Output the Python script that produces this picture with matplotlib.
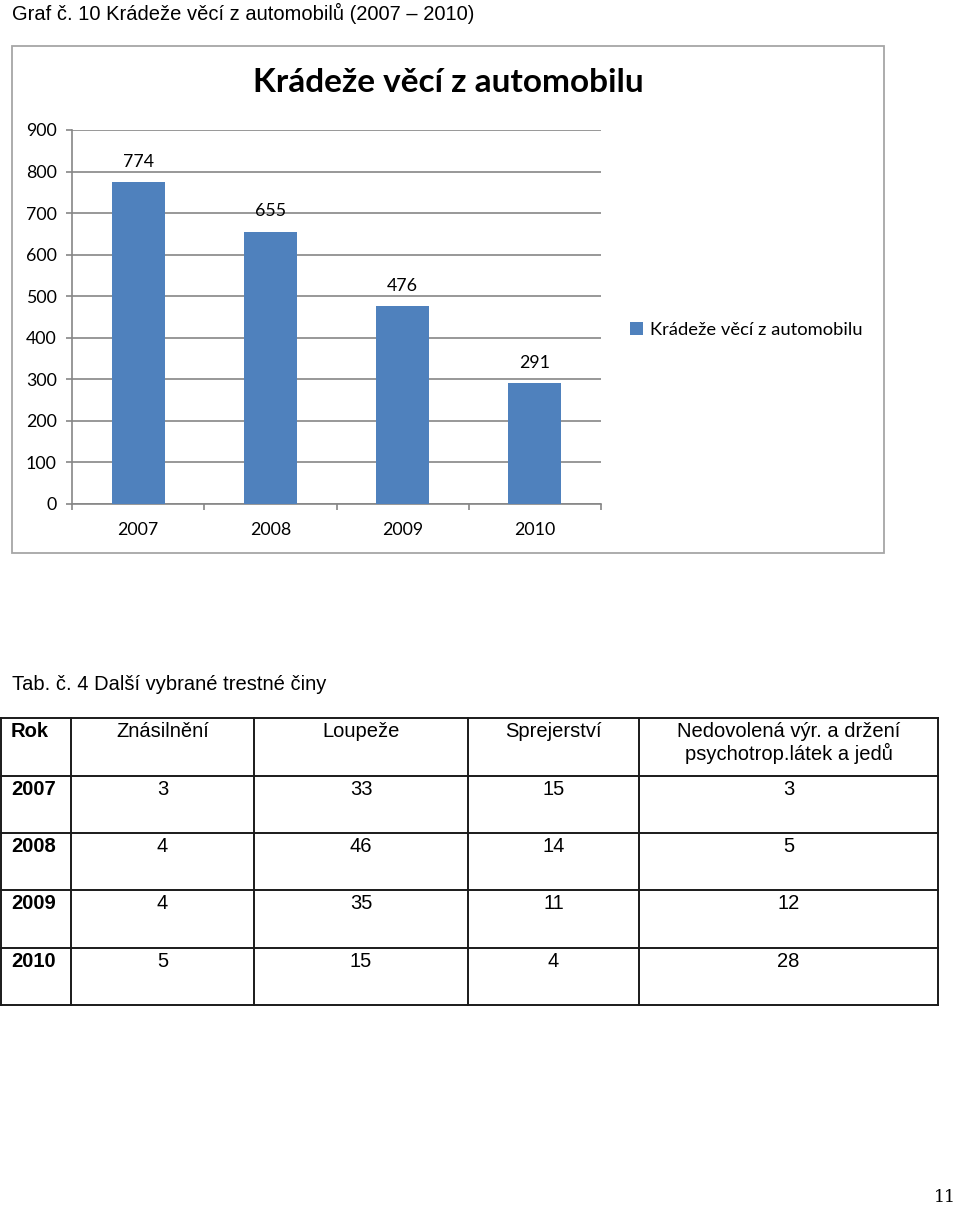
import matplotlib
matplotlib.use("Agg")
import matplotlib.pyplot as plt
from matplotlib.patches import Rectangle

# chart data
years = ["2007", "2008", "2009", "2010"]
kradeze = [774, 655, 476, 291]
series_name = "Krádeže věcí z automobilu"

# table data
tab_headers = ["Rok", "Znásilnění", "Loupeže", "Sprejerství",
               "Nedovolená výr. a držení\npsychotrop.látek a jedů"]
tab_years = ["2007", "2008", "2009", "2010"]
znasilneni = [3, 4, 4, 5]
loupeze = [33, 46, 35, 15]
sprejerstvi = [15, 14, 11, 4]
nedovolena = [3, 5, 12, 28]

W, H = 960, 1206
BAR = "#4F81BD"
GRID = "#868686"
CHART_FONT = "Lato"
DOC_FONT = "Liberation Sans"


def fx(x):
    return x / W


def fy(y):
    return 1 - y / H


fig = plt.figure(figsize=(W / 100, H / 100), dpi=100)

# page layer in pixel coordinates for the text and the table
page = fig.add_axes([0, 0, 1, 1])
page.set_xlim(0, W)
page.set_ylim(H, 0)
page.axis("off")

page.text(12, 13, "Graf č. 10 Krádeže věcí z automobilů (2007 – 2010)",
          family=DOC_FONT, fontsize=14.5, ha="left", va="center")

# chart frame
fig.add_artist(Rectangle((fx(12), fy(553)), fx(872), 507 / H, transform=fig.transFigure,
                         fill=False, edgecolor="#A6A6A6", lw=1.3))
fig.text(fx(448), fy(82), series_name, family=CHART_FONT, fontweight="bold",
         fontsize=24, ha="center", va="center")

ax = fig.add_axes([fx(72), fy(504), 529 / W, 374 / H])
xpos = list(range(len(years)))
bars = ax.bar(xpos, kradeze, width=0.4, color=BAR, label=series_name, zorder=3)
ax.bar_label(bars, labels=[str(v) for v in kradeze], padding=9,
             family=CHART_FONT, fontsize=12.8)
ax.set_ylim(0, 900)
ax.set_xlim(-0.5, len(years) - 0.5)
ax.set_yticks(range(0, 901, 100))
ax.yaxis.grid(True, color=GRID, lw=1.2, zorder=0)
ax.set_axisbelow(True)
ax.set_xticks(xpos)
ax.set_xticklabels(years)
ax.set_xticks([i - 0.5 for i in range(len(years) + 1)], minor=True)
ax.tick_params(axis="x", which="major", length=0, pad=13)
ax.tick_params(axis="x", which="minor", length=4, color=GRID, width=1.2)
ax.tick_params(axis="y", length=4, color=GRID, width=1.2, pad=7)
for lab in ax.get_xticklabels() + ax.get_yticklabels():
    lab.set_family(CHART_FONT)
    lab.set_fontsize(12.8)
for s in ["top", "right"]:
    ax.spines[s].set_visible(False)
for s in ["left", "bottom"]:
    ax.spines[s].set_color(GRID)
    ax.spines[s].set_linewidth(1.2)
ax.legend(loc="center left", bbox_to_anchor=(fx(630), fy(330)),
          bbox_transform=fig.transFigure, frameon=False, borderpad=0,
          borderaxespad=0, handlelength=0.7, handleheight=0.7,
          handletextpad=0.4, prop={"family": CHART_FONT, "size": 13.2})

# table
page.text(12, 684, "Tab. č. 4 Další vybrané trestné činy",
          family=DOC_FONT, fontsize=14.5, ha="left", va="center")

col_edges = [1, 71, 254, 468, 639, 938]
row_edges = [718, 776, 833, 890, 948, 1005]
for x in col_edges:
    page.plot([x, x], [row_edges[0], row_edges[-1]], color="#1a1a1a", lw=1.4)
for y in row_edges:
    page.plot([col_edges[0], col_edges[-1]], [y, y], color="#1a1a1a", lw=1.4)

cols = [znasilneni, loupeze, sprejerstvi, nedovolena]
FS = 14.5
page.text(11, row_edges[0] + 4, tab_headers[0], family=DOC_FONT, fontsize=FS,
          fontweight="bold", ha="left", va="top")
for j, head in enumerate(tab_headers[1:]):
    cx = (col_edges[j + 1] + col_edges[j + 2]) / 2
    page.text(cx, row_edges[0] + 4, head, family=DOC_FONT, fontsize=FS,
              ha="center", va="top", linespacing=1.1)
for i, yr in enumerate(tab_years):
    top = row_edges[i + 1] + 4
    page.text(11, top, yr, family=DOC_FONT, fontsize=FS, fontweight="bold",
              ha="left", va="top")
    for j, col in enumerate(cols):
        cx = (col_edges[j + 1] + col_edges[j + 2]) / 2
        page.text(cx, top, str(col[i]), family=DOC_FONT, fontsize=FS,
                  ha="center", va="top")

page.text(945, 1197, "11", family="DejaVu Serif", fontsize=12.5,
          ha="center", va="center")

fig.savefig("out.png", dpi=100)
